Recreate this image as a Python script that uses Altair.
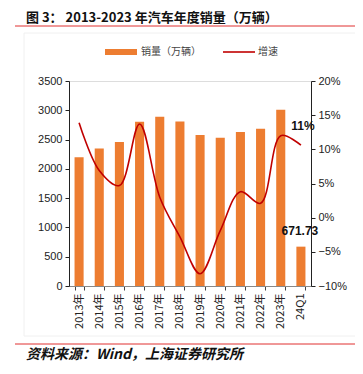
import altair as alt
import pandas as pd

years = ["2013年", "2014年", "2015年", "2016年", "2017年", "2018年", "2019年",
         "2020年", "2021年", "2022年", "2023年", "24Q1"]
sales = [2198, 2349, 2460, 2803, 2888, 2808, 2577, 2531, 2628, 2686, 3009, 671.73]
growth = [0.139, 0.069, 0.047, 0.137, 0.030, -0.028, -0.082, -0.019, 0.038, 0.021, 0.120, 0.106]

left_ticks = [0, 500, 1000, 1500, 2000, 2500, 3000, 3500]
right_ticks = [-0.1, -0.05, 0, 0.05, 0.1, 0.15, 0.2]

df = pd.DataFrame({"year": years, "sales": sales, "growth": growth})

W, H = 242, 205
FONT = "Liberation Sans, Noto Sans CJK SC"
CJK = "Noto Sans CJK SC, Liberation Sans"

xenc = alt.X("year:N", sort=years, title=None,
             scale=alt.Scale(paddingInner=0.55, paddingOuter=0.275),
             axis=alt.Axis(labelAngle=-90, labelFontSize=11, labelColor="#222",
                           labelFont=CJK, domainColor="#888", tickColor="#444",
                           tickBand="extent", tickSize=4, labelPadding=3,
                           labelOverlap=False))

y_left = alt.Y("sales:Q", title=None,
               scale=alt.Scale(domain=[0, 3500]),
               axis=alt.Axis(values=left_ticks, format="d", labelOverlap=False,
                             labelFlush=False, grid=False, labelFontSize=11,
                             labelColor="#222", labelFont=FONT,
                             domainColor="#222", tickColor="#222",
                             tickSize=4, labelPadding=3))

y_right = alt.Y("growth:Q", title=None,
                scale=alt.Scale(domain=[-0.1, 0.2]),
                axis=alt.Axis(orient="right", format=".0%", labelOverlap=False,
                              labelFlush=False, values=right_ticks,
                              grid=False, labelFontSize=11, labelColor="#222",
                              labelFont=FONT, domainColor="#222",
                              tickColor="#222", tickSize=4, labelPadding=3))

bars = alt.Chart(df).mark_bar(color="#ED7D31").encode(x=xenc, y=y_left)

bar_label = alt.Chart(df[df.year == "24Q1"]).mark_text(
    fontSize=12, fontWeight="bold", font=FONT, color="#111", dy=-16, dx=-1
).encode(x=xenc, y=y_left, text=alt.Text("sales:Q", format=".2f"))

left = alt.layer(bars, bar_label)

line = alt.Chart(df).mark_line(color="#C00000", strokeWidth=1.6,
                               interpolate="catmull-rom").encode(
    x=xenc, y=y_right)

line_label = alt.Chart(df[df.year == "24Q1"]).mark_text(
    fontSize=12, fontWeight="bold", font=FONT, color="#111", dy=-19, dx=2
).encode(x=xenc, y=y_right, text=alt.Text("growth:Q", format=".0%"))

right = alt.layer(line, line_label)

# decorations (title, legend, footer), in pixel positions relative to plot origin
deco_df = pd.DataFrame({"k": [0]})
base = alt.Chart(deco_df)

frame = base.mark_rect(fill=None, stroke="#f0f0f0", strokeWidth=1).encode(
    x=alt.value(-45), x2=alt.value(300), y=alt.value(-48), y2=alt.value(255))

title = base.mark_text(align="left", baseline="middle", fontSize=13,
                       fontWeight="bold", font=CJK, color="#111").encode(
    x=alt.value(-43), y=alt.value(-63),
    text=alt.value("图 3： 2013-2023 年汽车年度销量（万辆）"))
title_rule = base.mark_rule(color="#E03030", strokeWidth=1).encode(
    x=alt.value(-54), x2=alt.value(294), y=alt.value(-55))

leg_rect = base.mark_rect(color="#ED7D31").encode(
    x=alt.value(36), x2=alt.value(68), y=alt.value(-32), y2=alt.value(-26))
leg_t1 = base.mark_text(align="left", baseline="middle", fontSize=10,
                        font=CJK, color="#444").encode(
    x=alt.value(72), y=alt.value(-29), text=alt.value("销量（万辆）"))
leg_line = base.mark_rule(color="#C00000", strokeWidth=1.6).encode(
    x=alt.value(154), x2=alt.value(186), y=alt.value(-29))
leg_t2 = base.mark_text(align="left", baseline="middle", fontSize=10,
                        font=CJK, color="#444").encode(
    x=alt.value(189), y=alt.value(-29), text=alt.value("增速"))

foot_rule = base.mark_rule(color="#E03030", strokeWidth=1).encode(
    x=alt.value(-54), x2=alt.value(294), y=alt.value(263))
foot = base.mark_text(align="left", baseline="middle", fontSize=14,
                      fontWeight="bold", fontStyle="italic", font=CJK,
                      color="#111").encode(
    x=alt.value(-43), y=alt.value(274),
    text=alt.value("资料来源：Wind，上海证券研究所"))

deco = alt.layer(frame, title, title_rule, leg_rect, leg_t1, leg_line, leg_t2,
                 foot_rule, foot)

chart = alt.layer(left, right, deco).resolve_scale(y="independent").properties(
    width=W, height=H,
    autosize=alt.AutoSizeParams(type="none"),
    padding={"left": 61, "top": 73, "right": 44, "bottom": 78},
).configure_view(stroke=None).configure(background="white")

chart.save("out.html", embed_options={"renderer": "svg", "actions": False})
